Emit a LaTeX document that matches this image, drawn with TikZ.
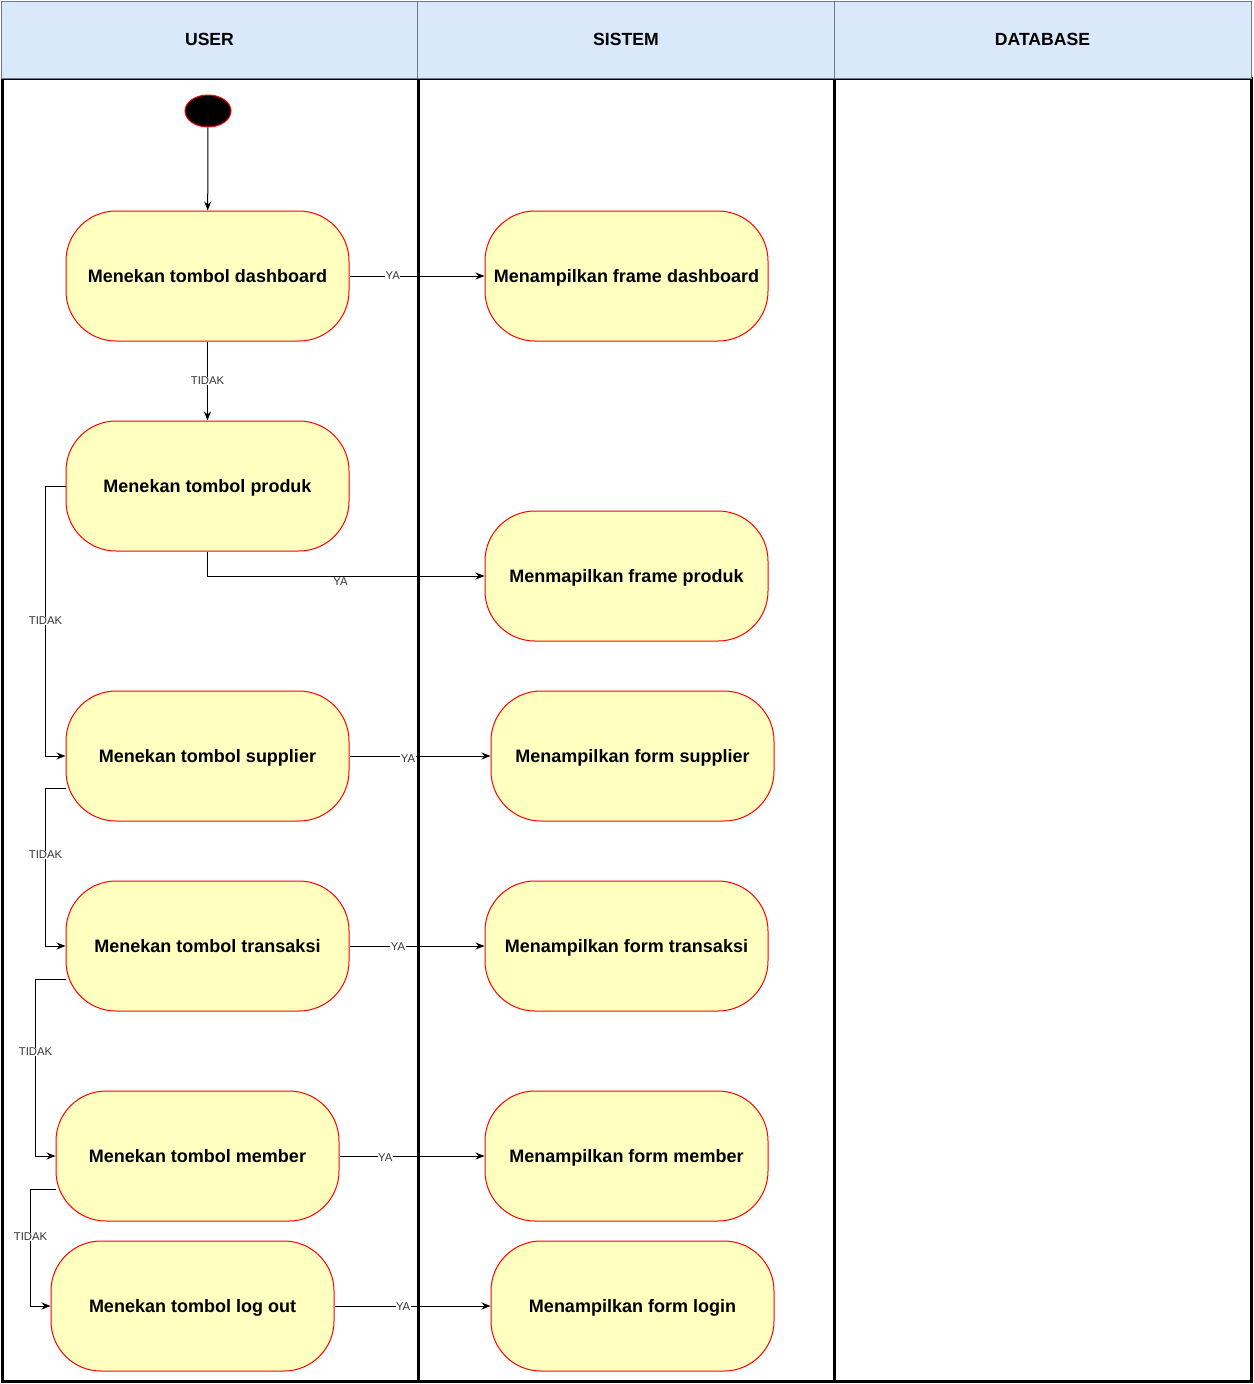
\documentclass[tikz,border=0pt]{standalone}
\usepackage{fontspec}
\setmainfont{Liberation Sans}
\usetikzlibrary{shapes.geometric,arrows.meta}
\definecolor{hdrfill}{HTML}{DAE8FC}
\definecolor{hdrline}{HTML}{6C7A89}
\definecolor{actfill}{HTML}{FFFFC0}
\definecolor{actline}{HTML}{FF0000}
\definecolor{lbl}{HTML}{333333}
\tikzset{
  hdr/.style={draw=hdrline, fill=hdrfill, line width=1pt, minimum width=417pt, minimum height=77pt, inner sep=0pt, text height=12.6pt, text depth=0pt, font=\fontsize{17.6}{20}\selectfont\bfseries},
  act/.style={draw=actline, fill=actfill, line width=1pt, rounded corners=50pt, minimum width=283pt, minimum height=130pt, inner sep=0pt, text height=12.9pt, text depth=0pt, font=\fontsize{18}{21}\selectfont\bfseries},
  startnode/.style={ellipse, draw=actline, fill=black, line width=1pt, minimum width=46pt, minimum height=32pt, inner sep=0pt},
  conn/.style={draw=black, line width=1pt, -{Stealth[length=9pt,width=7pt]}},
  lab/.style={fill=white, inner sep=0.5pt, text=lbl, font=\fontsize{11.3}{13}\selectfont},
  lane/.style={draw=black, line width=3pt}
}
\begin{document}
\begin{tikzpicture}[x=1pt,y=-1pt]
\useasboundingbox (0,0) rectangle (1253,1384);
\fill[white] (0,0) rectangle (1253,1384);
% lanes body
\draw[lane] (2,78) rectangle (1251,1381);
\draw[lane] (418,78) -- (418,1381);
\draw[lane] (834,78) -- (834,1381);
% headers
\node[hdr] (hU) at (209.5,39.5) {USER};
\node[hdr] (hS) at (626,39.5) {SISTEM};
\node[hdr] (hD) at (1042.5,39.5) {DATABASE};
% start
\node[startnode] (st) at (208,111) {};
% user actions
\node[act] (a1) at (207.5,276) {Menekan tombol dashboard};
\node[act] (a2) at (207.5,486) {Menekan tombol produk};
\node[act] (a3) at (207.5,756) {Menekan tombol supplier};
\node[act] (a4) at (207.5,946) {Menekan tombol transaksi};
\node[act] (a5) at (197.5,1156) {Menekan tombol member};
\node[act] (a6) at (192.5,1306) {Menekan tombol log out};
% system actions
\node[act] (s1) at (626.5,276) {Menampilkan frame dashboard};
\node[act] (s2) at (626.5,576) {Menmapilkan frame produk};
\node[act] (s3) at (632.5,756) {Menampilkan form supplier};
\node[act] (s4) at (626.5,946) {Menampilkan form transaksi};
\node[act] (s5) at (626.5,1156) {Menampilkan form member};
\node[act] (s6) at (632.5,1306) {Menampilkan form login};
% connectors
\draw[conn] (st) -- (a1);
\draw[conn] (a1) -- node[lab,pos=0.32]{YA} (s1);
\draw[conn] (a1) -- node[lab,pos=0.5]{TIDAK} (a2);
\draw[conn] (a2.south) |- node[lab,pos=0.74,yshift=-6pt]{YA} (s2.west);
\draw[conn] (a2.west) -- ++(-20,0) |- node[lab,pos=0.25]{TIDAK} (a3.west);
\draw[conn] (a3) -- node[lab,pos=0.415,yshift=-3pt]{YA} (s3);
\draw[conn] ([yshift=-32pt]a3.west) -- ++(-20,0) |- node[lab,pos=0.212]{TIDAK} (a4.west);
\draw[conn] (a4) -- node[lab,pos=0.36,yshift=-1pt]{YA} (s4);
\draw[conn] ([yshift=-33pt]a4.west) -- ++(-30,0) |- node[lab,pos=0.206]{TIDAK} (a5.west);
\draw[conn] (a5) -- node[lab,pos=0.315,yshift=-2pt]{YA} (s5);
\draw[conn] ([yshift=-33pt]a5.west) -- ++(-25,0) |- node[lab,pos=0.205]{TIDAK} (a6.west);
\draw[conn] (a6) -- node[lab,pos=0.44,yshift=-1pt]{YA} (s6);
\end{tikzpicture}
\end{document}
